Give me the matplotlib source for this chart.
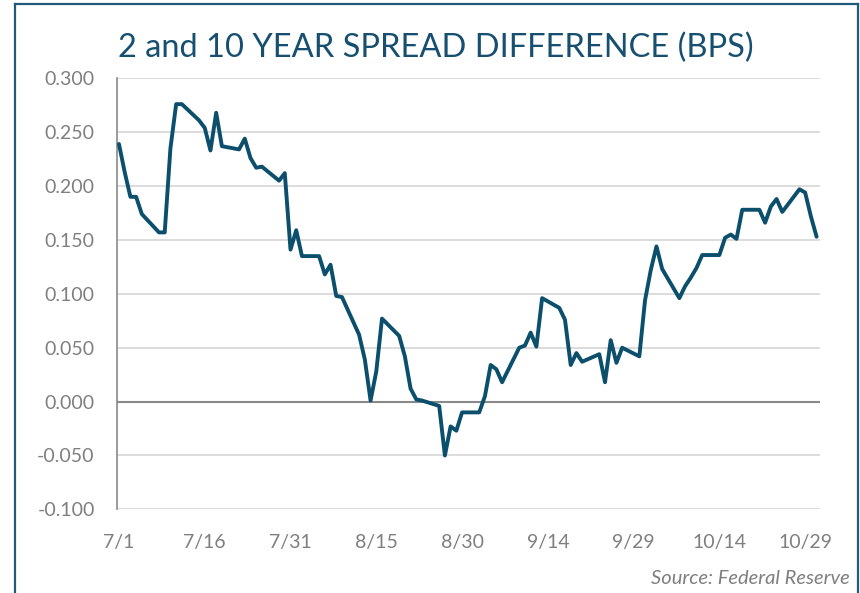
import matplotlib.pyplot as plt
import matplotlib.dates as mdates
import pandas as pd
from matplotlib.lines import Line2D

# 2s10s spread, business days 2019 (weekends are bridged by the line)
dates = ['07-01', '07-02', '07-03', '07-04', '07-05', '07-08', '07-09', '07-10',
         '07-11', '07-12', '07-15', '07-16', '07-17', '07-18', '07-19', '07-22',
         '07-23', '07-24', '07-25', '07-26', '07-29', '07-30', '07-31', '08-01',
         '08-02', '08-05', '08-06', '08-07', '08-08', '08-09', '08-12', '08-13',
         '08-14', '08-15', '08-16', '08-19', '08-20', '08-21', '08-22', '08-23',
         '08-26', '08-27', '08-28', '08-29', '08-30', '09-02', '09-03', '09-04',
         '09-05', '09-06', '09-09', '09-10', '09-11', '09-12', '09-13', '09-16',
         '09-17', '09-18', '09-19', '09-20', '09-23', '09-24', '09-25', '09-26',
         '09-27', '09-30', '10-01', '10-02', '10-03', '10-04', '10-07', '10-08',
         '10-09', '10-10', '10-11', '10-14', '10-15', '10-16', '10-17', '10-18',
         '10-21', '10-22', '10-23', '10-24', '10-25', '10-28', '10-29', '10-30',
         '10-31']
spread = [0.239, 0.213, 0.190, 0.190, 0.174, 0.157, 0.157, 0.235,
          0.276, 0.276, 0.261, 0.254, 0.233, 0.268, 0.237, 0.234,
          0.244, 0.226, 0.217, 0.218, 0.205, 0.212, 0.141, 0.159,
          0.135, 0.135, 0.118, 0.127, 0.098, 0.097, 0.062, 0.039,
          0.001, 0.028, 0.077, 0.061, 0.042, 0.012, 0.002, 0.001,
          -0.004, -0.050, -0.023, -0.027, -0.010, -0.010, 0.005, 0.034,
          0.030, 0.018, 0.050, 0.052, 0.064, 0.051, 0.096, 0.087,
          0.076, 0.034, 0.045, 0.037, 0.044, 0.018, 0.057, 0.036,
          0.050, 0.042, 0.094, 0.122, 0.144, 0.123, 0.096, 0.107,
          0.115, 0.124, 0.136, 0.136, 0.152, 0.155, 0.151, 0.178,
          0.178, 0.166, 0.181, 0.188, 0.176, 0.197, 0.194, 0.172,
          0.153]

tick_dates = ['07-01', '07-16', '07-31', '08-15', '08-30',
              '09-14', '09-29', '10-14', '10-29']
tick_labels = ['7/1', '7/16', '7/31', '8/15', '8/30',
               '9/14', '9/29', '10/14', '10/29']
y_ticks = [-0.100, -0.050, 0.000, 0.050, 0.100, 0.150, 0.200, 0.250, 0.300]

line_color = '#0B4F6C'
title_color = '#174F70'
text_gray = '#7F7F7F'

plt.rcParams['font.family'] = ['Lato', 'DejaVu Sans']

x = mdates.date2num(pd.to_datetime(['2019-' + d for d in dates]))
xt = mdates.date2num(pd.to_datetime(['2019-' + d for d in tick_dates]))

fig = plt.figure(figsize=(8.6, 5.93), dpi=100)
ax = fig.add_axes([0.136, 0.141, 0.8175, 0.727])

# gridlines and zero line
for v in y_ticks:
    if v == 0:
        continue
    ax.axhline(v, color='#D9D9D9', lw=1.3, zorder=1)
ax.axhline(0, color='#898989', lw=1.5, zorder=2)

ax.plot(x, spread, color=line_color, lw=2.8, zorder=3,
        solid_joinstyle='round', solid_capstyle='round')

ax.set_xlim(xt[0] - 0.35, xt[0] + 122.6)
ax.set_ylim(-0.100, 0.300)
ax.set_yticks(y_ticks)
ax.set_yticklabels(['{:.3f}'.format(v) for v in y_ticks])
ax.set_xticks(xt)
ax.set_xticklabels(tick_labels)
ax.tick_params(axis='both', length=0, labelsize=14, colors=text_gray)
ax.tick_params(axis='y', pad=16)
ax.tick_params(axis='x', pad=18)

for s in ['top', 'right', 'bottom']:
    ax.spines[s].set_visible(False)
ax.spines['left'].set_color('#898989')
ax.spines['left'].set_linewidth(1.2)

fig.text(0.507, 0.919, '2 and 10 YEAR SPREAD DIFFERENCE (BPS)',
         ha='center', va='center', fontsize=23.5, color=title_color)
fig.text(0.988, 0.025, 'Source: Federal Reserve', ha='right', va='center',
         fontsize=14.5, style='italic', color=text_gray)

# outer frame (left, top, right edges)
frame = dict(color='#1F5A7A', lw=1.6, transform=fig.transFigure)
fig.lines.append(Line2D([15 / 860, 15 / 860], [0, 1 - 4 / 593], **frame))
fig.lines.append(Line2D([15 / 860, 858 / 860], [1 - 4 / 593, 1 - 4 / 593], **frame))
fig.lines.append(Line2D([858 / 860, 858 / 860], [0, 1 - 4 / 593], **frame))

fig.savefig('out.png', dpi=100)
